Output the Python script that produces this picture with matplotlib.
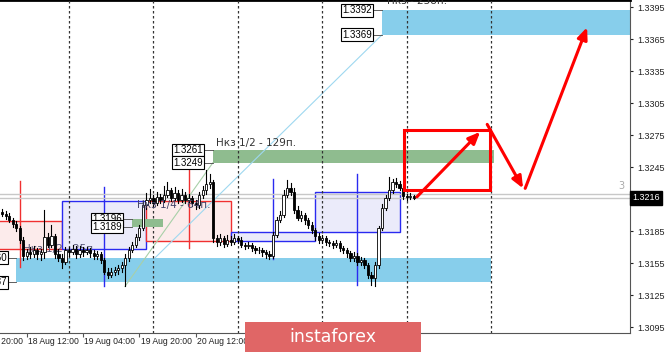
import matplotlib
matplotlib.use('Agg')

import matplotlib.pyplot as plt
import matplotlib.patches as patches
import matplotlib.transforms as mtransforms

# ---------------- DATA ----------------
first_bar = 5
first_open = 1.3203
closes = [1.3201, 1.3199, 1.3195, 1.3192, 1.3188, 1.3177, 1.3162, 1.3165, 1.3163, 1.3167,
          1.3163, 1.3165, 1.3179, 1.3172, 1.3180, 1.3163, 1.3160, 1.3156, 1.3167, 1.3165,
          1.3168, 1.3163, 1.3167, 1.3165, 1.3167, 1.3164, 1.3162, 1.3163, 1.3158, 1.3147,
          1.3144, 1.3147, 1.3148, 1.3150, 1.3153, 1.3160, 1.3167, 1.3172, 1.3179, 1.3188,
          1.3209, 1.3214, 1.3216, 1.3211, 1.3217, 1.3214, 1.3219, 1.3223, 1.3216, 1.3221,
          1.3214, 1.3219, 1.3214, 1.3216, 1.3211, 1.3209, 1.3219, 1.3223, 1.3229, 1.3231,
          1.3178, 1.3175, 1.3178, 1.3173, 1.3177, 1.3175, 1.3178, 1.3177, 1.3172, 1.3171,
          1.3172, 1.3169, 1.3167, 1.3167, 1.3165, 1.3163, 1.3162, 1.3181, 1.3195, 1.3200,
          1.3219, 1.3225, 1.3222, 1.3205, 1.3197, 1.3200, 1.3195, 1.3191, 1.3186, 1.3180,
          1.3177, 1.3178, 1.3175, 1.3174, 1.3172, 1.3174, 1.3169, 1.3167, 1.3164, 1.3160,
          1.3162, 1.3156, 1.3158, 1.3153, 1.3144, 1.3141, 1.3153, 1.3188, 1.3207, 1.3216,
          1.3223, 1.3231, 1.3229, 1.3225, 1.3218, 1.3217, 1.3218, 1.3216]
highs = [1.3206, 1.3204, 1.3202, 1.3197, 1.3194, 1.3190, 1.3179, 1.3168, 1.3170, 1.3171,
         1.3169, 1.3168, 1.3205, 1.3183, 1.3191, 1.3182, 1.3168, 1.3163, 1.3170, 1.3170,
         1.3172, 1.3171, 1.3171, 1.3170, 1.3170, 1.3169, 1.3167, 1.3166, 1.3165, 1.3160,
         1.3150, 1.3150, 1.3151, 1.3153, 1.3156, 1.3163, 1.3170, 1.3175, 1.3182, 1.3191,
         1.3213, 1.3221, 1.3224, 1.3219, 1.3222, 1.3220, 1.3227, 1.3231, 1.3225, 1.3226,
         1.3223, 1.3224, 1.3222, 1.3220, 1.3218, 1.3214, 1.3222, 1.3227, 1.3242, 1.3238,
         1.3233, 1.3181, 1.3182, 1.3180, 1.3181, 1.3180, 1.3182, 1.3180, 1.3179, 1.3174,
         1.3175, 1.3174, 1.3171, 1.3170, 1.3169, 1.3167, 1.3166, 1.3184, 1.3198, 1.3204,
         1.3223, 1.3233, 1.3230, 1.3225, 1.3208, 1.3204, 1.3202, 1.3197, 1.3193, 1.3188,
         1.3183, 1.3181, 1.3180, 1.3177, 1.3176, 1.3177, 1.3176, 1.3171, 1.3169, 1.3166,
         1.3165, 1.3164, 1.3161, 1.3160, 1.3155, 1.3147, 1.3156, 1.3190, 1.3210, 1.3219,
         1.3236, 1.3234, 1.3235, 1.3232, 1.3227, 1.3220, 1.3221, 1.3219]
lows = [1.3199, 1.3196, 1.3193, 1.3189, 1.3185, 1.3174, 1.3158, 1.3159, 1.3160, 1.3161,
        1.3159, 1.3158, 1.3160, 1.3170, 1.3170, 1.3160, 1.3157, 1.3150, 1.3154, 1.3162,
        1.3163, 1.3160, 1.3161, 1.3162, 1.3163, 1.3161, 1.3159, 1.3159, 1.3155, 1.3145,
        1.3141, 1.3142, 1.3144, 1.3145, 1.3147, 1.3133, 1.3157, 1.3165, 1.3170, 1.3177,
        1.3186, 1.3206, 1.3211, 1.3208, 1.3209, 1.3211, 1.3212, 1.3217, 1.3213, 1.3214,
        1.3211, 1.3212, 1.3211, 1.3212, 1.3208, 1.3206, 1.3207, 1.3216, 1.3220, 1.3225,
        1.3175, 1.3171, 1.3172, 1.3170, 1.3171, 1.3172, 1.3173, 1.3174, 1.3170, 1.3168,
        1.3169, 1.3166, 1.3164, 1.3164, 1.3162, 1.3160, 1.3159, 1.3160, 1.3179, 1.3193,
        1.3198, 1.3217, 1.3219, 1.3202, 1.3195, 1.3194, 1.3192, 1.3188, 1.3183, 1.3177,
        1.3174, 1.3174, 1.3172, 1.3171, 1.3169, 1.3170, 1.3166, 1.3164, 1.3161, 1.3157,
        1.3157, 1.3153, 1.3153, 1.3150, 1.3141, 1.3134, 1.3133, 1.3150, 1.3186, 1.3205,
        1.3214, 1.3221, 1.3226, 1.3223, 1.3215, 1.3214, 1.3215, 1.3215]

# daily boxes (open/close body + high/low line), 24 bars each
day_start = [-2, 22, 46, 70, 94]
day_open = [1.3194, 1.3168, 1.3213, 1.3176, 1.3184]
day_close = [1.3168, 1.3213, 1.3176, 1.3184, 1.3222]
day_high = [1.3232, 1.3226, 1.3244, 1.3234, 1.3238]
day_low = [1.3151, 1.3133, 1.3169, 1.3159, 1.3134]

# zones
upper_zone = [113.0, 190.0, 1.3392, 1.3369]
green_zone = [64.9, 144.8, 1.3261, 1.3249]
small_zone = [41.9, 50.7, 1.3196, 1.3189]
lower_zone = [8.9, 144.0, 1.3160, 1.3137]
target_box = [119.3, 143.7, 1.3280, 1.3223]

# forecast path
path_x = [122.9, 140.9, 142.9, 153.1, 153.7, 171.3]
path_y = [1.3217, 1.3278, 1.3285, 1.3225, 1.3225, 1.3376]

bid = 1.3216
ask = 1.3220
yticks = [1.3095, 1.3125, 1.3155, 1.3185, 1.3245, 1.3275, 1.3305, 1.3335, 1.3365, 1.3395]
time_labels = ["17 Aug 20:00", "18 Aug 12:00", "19 Aug 04:00", "19 Aug 20:00", "20 Aug 12:00"]
time_bars = [-4, 12, 28, 44, 60]
day_lines = [24, 48, 72, 96, 120, 144]

TICKFONT = 'Liberation Sans'

# ---------------- FIGURE ----------------
fig = plt.figure(figsize=(6.65, 3.53), dpi=100, facecolor='white')
ax = fig.add_axes([0, 20 / 353, 630 / 665, 333 / 353])

ax.spines['left'].set_visible(False)
ax.spines['top'].set_color('black')
ax.spines['top'].set_linewidth(2)
ax.spines['right'].set_color('#555555')
ax.spines['bottom'].set_color('#555555')

# day separators
for d in day_lines:
    ax.axvline(d, color='#333333', lw=0.9, linestyle=(0, (2, 2)), zorder=3)

# zones
def zone(z, color, zo=1):
    ax.add_patch(patches.Rectangle((z[0], z[3]), z[1] - z[0], z[2] - z[3],
                                   facecolor=color, edgecolor='none', zorder=zo))

zone(upper_zone, '#87CEEB')
zone(lower_zone, '#87CEEB')
zone(green_zone, '#8FBC8F')

# daily boxes
for st, o, c, h, l in zip(day_start, day_open, day_close, day_high, day_low):
    bull = c > o
    ec = '#2A2AF0' if bull else '#F03030'
    fc = '#EBEBFA' if bull else '#FCEBEB'
    ax.add_patch(patches.Rectangle((st, min(o, c)), 24, abs(c - o),
                                   facecolor=fc, edgecolor=ec, lw=1, zorder=2))
    ax.plot([st + 12, st + 12], [l, h], color=ec, lw=1, zorder=2)

zone(small_zone, '#8FBC8F', 3)

# bid / ask lines
ax.axhline(ask, color='#C8C8C8', lw=1, zorder=2)
ax.axhline(bid, color='#C8C8C8', lw=1, zorder=2)

# trend helper lines
ax.plot([48.5, upper_zone[0]], [lower_zone[2], upper_zone[3]], color='#9ED8F0', lw=0.8, zorder=2)
ax.plot([39.9, green_zone[0]], [1.3133, green_zone[3]], color='#A8D0A8', lw=0.8, zorder=2)

# faint text
ax.text(11, 1.3168, "Нкз 1/2 - 25п.", fontsize=7.5, color='#555577', va='center', zorder=2)

# candles
o = first_open
for k, (c, h, l) in enumerate(zip(closes, highs, lows)):
    i = first_bar + k
    ax.plot([i, i], [l, h], color='black', lw=0.8, zorder=4)
    bottom = min(o, c)
    height = max(abs(c - o), 0.00003)
    ax.add_patch(patches.Rectangle((i - 0.32, bottom), 0.64, height,
                                   facecolor='white' if c > o else 'black',
                                   edgecolor='black', lw=0.6, zorder=5))
    o = c

# target box and forecast arrows
ax.add_patch(patches.Rectangle((target_box[0], target_box[3]), target_box[1] - target_box[0],
                               target_box[2] - target_box[3], facecolor='none',
                               edgecolor='#FF0000', lw=2.2, zorder=6))
for j in range(0, len(path_x), 2):
    ax.annotate('', xy=(path_x[j + 1], path_y[j + 1]), xytext=(path_x[j], path_y[j]),
                arrowprops=dict(arrowstyle='-|>,head_length=0.7,head_width=0.3',
                                color='#FF0000', lw=2.2, shrinkA=0, shrinkB=0), zorder=7)

# price labels
def price_label(x, p, x_end):
    ax.text(x, p, f"{p:.4f}", fontsize=7, family=TICKFONT, ha='center', va='center',
            zorder=8, clip_on=False,
            bbox=dict(boxstyle='square,pad=0.15', facecolor='white', edgecolor='black', lw=0.8))
    ax.plot([x + 4.4, x_end], [p, p], color='#444444', lw=0.6, zorder=7)

price_label(105.9, upper_zone[2], upper_zone[0])
price_label(105.9, upper_zone[3], upper_zone[0])
price_label(57.8, green_zone[2], green_zone[0])
price_label(57.8, green_zone[3], green_zone[0])
price_label(34.8, small_zone[2], small_zone[0])
price_label(34.8, small_zone[3], small_zone[0])
price_label(2.0, lower_zone[2], lower_zone[0])
price_label(2.0, lower_zone[3], lower_zone[0])

ax.text(65.8, 1.3268, "Нкз 1/2 - 129п.", fontsize=7.5, color='#333333', va='center', zorder=8)
ax.text(43.3, 1.3209, "Нкз 1/4 - 64п.", fontsize=7.5, color='#44446A', va='center', zorder=8)
ax.text(114.4, 1.3401, "Нкз - 258п.", fontsize=7.5, color='#333333', va='center', zorder=8,
        clip_on=False)
ax.text(181.0, 1.3227, "3", fontsize=7, color='#AAAAAA', ha='center', va='center')

# axes ticks
ax.yaxis.tick_right()
ax.set_yticks(yticks)
ax.set_yticklabels([f"{v:.4f}" for v in yticks], family=TICKFONT)
ax.tick_params(axis='y', length=2.5, width=0.8, pad=3, labelsize=6.5, colors='#222222')
ax.set_xticks(time_bars)
ax.set_xticklabels([])
ax.tick_params(axis='x', length=3, width=0.8, color='#555555')
ax.set_xlim(4.38, 183.5)
ax.set_ylim(1.30894, 1.34016)
trans = mtransforms.blended_transform_factory(ax.transData, ax.transAxes)
for tb, tl in zip(time_bars, time_labels):
    ax.text(tb + 0.4, -0.026, tl, transform=trans, fontsize=6.2, family=TICKFONT,
            ha='left', va='center', color='#222222', clip_on=False)

# current price tag
trans_y = mtransforms.blended_transform_factory(ax.transAxes, ax.transData)
ax.text(1.004, bid, f"{bid:.4f}", transform=trans_y, fontsize=6.5, family=TICKFONT,
        color='white', va='center', ha='left', zorder=9, clip_on=False,
        bbox=dict(boxstyle='square,pad=0.25', facecolor='black', edgecolor='black'))

# watermark banner
fig.patches.append(patches.Rectangle((245 / 665, 1 / 353), 176 / 665, 30 / 353,
                                     transform=fig.transFigure, facecolor='#E06666',
                                     edgecolor='none', zorder=10))
fig.text(333 / 665, 16 / 353, "instaforex", fontsize=12.5, color='white', ha='center',
         va='center', zorder=11)

fig.savefig("out.png", dpi=100, facecolor='white')
